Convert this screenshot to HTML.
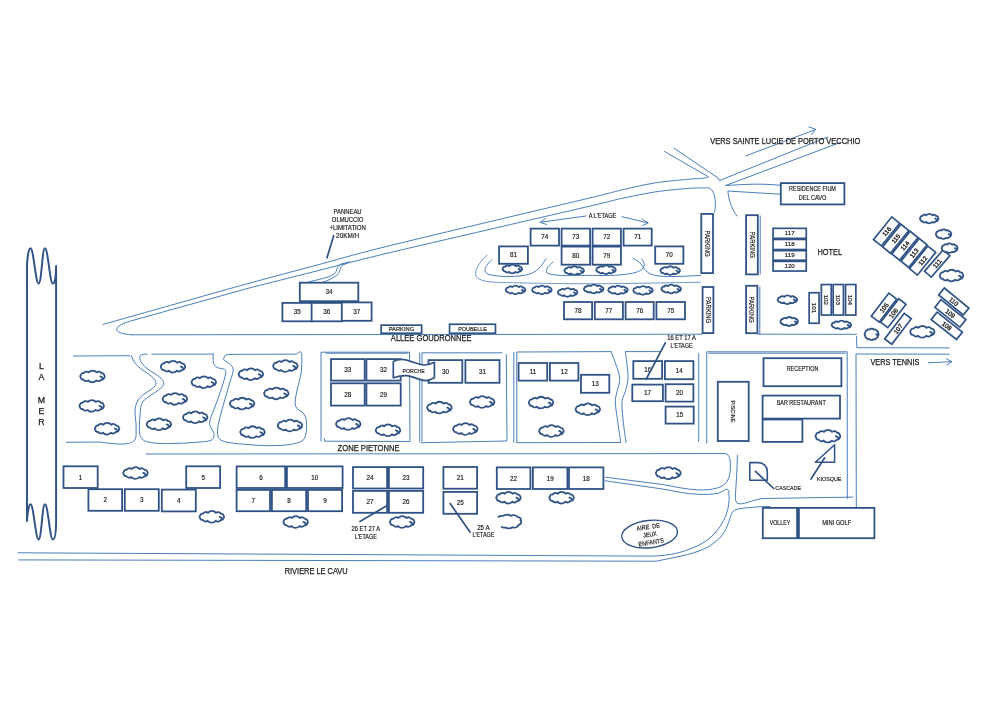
<!DOCTYPE html>
<html lang="fr"><head><meta charset="utf-8"><title>Plan</title>
<style>
html,body{margin:0;padding:0;background:#fff;}
body{width:992px;height:701px;overflow:hidden;}
svg{display:block;font-family:"Liberation Sans",sans-serif;filter:blur(0.35px);}
</style></head><body>
<svg width="992" height="701" viewBox="0 0 992 701">
<rect x="0" y="0" width="992" height="701" fill="#fff"/>
<path d="M27,266 C27.5,254 29,248.3 30.5,248.3 C33.6,248.3 35.6,283.6 38.6,283.6 C41.6,283.6 42.2,248.3 44.9,248.3 C48.1,248.3 49.8,283.6 52.8,283.6 C54.9,283.6 56.1,276 56.1,266 L56.1,520 C56.1,532 55.2,539.4 52.8,539.4 C49.8,539.4 48.1,504.3 44.9,504.3 C42.2,504.3 41.6,539.4 38.6,539.4 C35.6,539.4 33.6,504.3 30.5,504.3 C29,504.3 27.5,512 27,521 Z" fill="none" stroke="#2f5386" stroke-width="1.95" stroke-linecap="round" stroke-linejoin="round"/>
<text x="41.5" y="361.1" font-size="8.8" fill="#1a1a1a" stroke="#1a1a1a" stroke-width="0.25" style="writing-mode:vertical-rl;text-orientation:upright;letter-spacing:1.25px;white-space:pre">LA MER</text>
<path d="M103.00,324.40 C115.00,321.02 150.50,311.00 175.00,304.10 C199.50,297.20 226.67,289.42 250.00,283.00 C273.33,276.58 293.33,271.42 315.00,265.60 C336.67,259.78 350.83,255.43 380.00,248.10 C409.17,240.77 455.00,229.97 490.00,221.60 C525.00,213.23 567.95,203.20 590.00,197.90 C612.05,192.60 611.55,192.28 622.30,189.80 C633.05,187.32 643.75,184.73 654.50,183.00 C665.25,181.27 678.72,180.20 686.80,179.40 C694.88,178.60 699.38,178.63 703.00,178.20 C706.62,177.77 707.58,177.03 708.50,176.80 L664.5,151.5" fill="none" stroke="#4a7ebb" stroke-width="1.0" stroke-linecap="round" stroke-linejoin="round"/>
<path d="M132,334.8 C122,334.2 116.2,332 116.8,329 C117.5,326 122,323.5 130.3,321.1 L250,287.8  C260.83,285.07 293.33,276.87 315.00,271.40 C336.67,265.93 350.83,262.02 380.00,255.00 C409.17,247.98 455.00,237.45 490.00,229.30 C525.00,221.15 567.95,211.27 590.00,206.10 C612.05,200.93 611.55,200.65 622.30,198.30 C633.05,195.95 643.75,193.63 654.50,192.00 C665.25,190.37 678.72,189.18 686.80,188.50 C694.88,187.82 699.10,187.88 703.00,187.90 C706.90,187.92 708.33,187.45 710.20,188.60 C712.07,189.75 713.33,192.15 714.20,194.80 C715.07,197.45 715.33,201.63 715.40,204.50 C715.47,207.37 714.73,210.75 714.60,212.00" fill="none" stroke="#4a7ebb" stroke-width="1.0" stroke-linecap="round" stroke-linejoin="round"/>
<path d="M132,334.8 L702,334.2 M758,334.2 L856.5,334.3 M856.6,336.5 L856.8,347.7 L949.3,347.9" fill="none" stroke="#4a7ebb" stroke-width="1.0" stroke-linecap="round" stroke-linejoin="round"/>
<path d="M949,354.2 L856,354 L856.3,507" fill="none" stroke="#4a7ebb" stroke-width="1.0" stroke-linecap="round" stroke-linejoin="round"/>
<path d="M673.9,148.2 L718.2,178 L719.4,180.6 L827.9,136.9" fill="none" stroke="#4a7ebb" stroke-width="1.0" stroke-linecap="round" stroke-linejoin="round"/>
<path d="M746,155.8 L815.5,129.5" fill="none" stroke="#4a7ebb" stroke-width="1.0" stroke-linecap="round" stroke-linejoin="round"/>
<path d="M809,127 L815.8,129.3 L811.5,134.5" fill="none" stroke="#4a7ebb" stroke-width="1.0" stroke-linecap="round" stroke-linejoin="round"/>
<path d="M839.7,142.7 L725.4,185.6 C745,184.3 760,183.3 780.3,185.3" fill="none" stroke="#4a7ebb" stroke-width="1.0" stroke-linecap="round" stroke-linejoin="round"/>
<path d="M779.5,194.2 L727.9,191 C728.5,200 732,209 736.8,216" fill="none" stroke="#4a7ebb" stroke-width="1.0" stroke-linecap="round" stroke-linejoin="round"/>
<path d="M349.6,262 L341,264 C336,266 338,271 334,274 C328,278 318,279.5 308.6,282" fill="none" stroke="#4a7ebb" stroke-width="1.0" stroke-linecap="round" stroke-linejoin="round"/>
<path d="M349.6,262 L344,264.5 C339,266.5 341,272 337,275 C333,278.5 328,280.5 322,282.5" fill="none" stroke="#4a7ebb" stroke-width="1.0" stroke-linecap="round" stroke-linejoin="round"/>
<text x="347.60" y="213.54" font-size="6.5" text-anchor="middle" textLength="28.00" lengthAdjust="spacingAndGlyphs" stroke="#1a1a1a" stroke-width="0.17" fill="#1a1a1a">PANNEAU</text>
<text x="347.60" y="222.04" font-size="6.5" text-anchor="middle" textLength="31.50" lengthAdjust="spacingAndGlyphs" stroke="#1a1a1a" stroke-width="0.17" fill="#1a1a1a">OLMUCCIO</text>
<text x="347.60" y="230.04" font-size="6.5" text-anchor="middle" textLength="36.40" lengthAdjust="spacingAndGlyphs" stroke="#1a1a1a" stroke-width="0.17" fill="#1a1a1a">+LIMITATION</text>
<text x="347.60" y="238.24" font-size="6.5" text-anchor="middle" textLength="23.00" lengthAdjust="spacingAndGlyphs" stroke="#1a1a1a" stroke-width="0.17" fill="#1a1a1a">20KM/H</text>
<line x1="333.70" y1="235.70" x2="327.00" y2="257.80" stroke="#2f5386" stroke-width="1.7" stroke-linecap="round"/>
<rect x="299.80" y="282.70" width="58.50" height="18.50" fill="#fff" stroke="#2f5386" stroke-width="1.8"/>
<text x="329.05" y="294.32" font-size="6.3" text-anchor="middle" stroke="#1a1a1a" stroke-width="0.17" fill="#1a1a1a">34</text>
<rect x="282.40" y="302.90" width="29.50" height="18.40" fill="#fff" stroke="#2f5386" stroke-width="1.8"/>
<text x="297.15" y="314.47" font-size="6.3" text-anchor="middle" stroke="#1a1a1a" stroke-width="0.17" fill="#1a1a1a">35</text>
<rect x="311.60" y="302.90" width="30.50" height="18.40" fill="#fff" stroke="#2f5386" stroke-width="1.8"/>
<text x="326.85" y="314.47" font-size="6.3" text-anchor="middle" stroke="#1a1a1a" stroke-width="0.17" fill="#1a1a1a">36</text>
<rect x="341.80" y="302.40" width="29.80" height="18.40" fill="#fff" stroke="#2f5386" stroke-width="1.8"/>
<text x="356.70" y="313.97" font-size="6.3" text-anchor="middle" stroke="#1a1a1a" stroke-width="0.17" fill="#1a1a1a">37</text>
<rect x="381.15" y="325.15" width="40.50" height="8.10" fill="#fff" stroke="#2f5386" stroke-width="1.7"/>
<text x="401.40" y="331.46" font-size="6.0" text-anchor="middle" textLength="25.50" lengthAdjust="spacingAndGlyphs" stroke="#1a1a1a" stroke-width="0.17" fill="#1a1a1a">PARKING</text>
<rect x="449.55" y="324.25" width="45.90" height="9.00" fill="#fff" stroke="#2f5386" stroke-width="1.7"/>
<text x="472.50" y="331.01" font-size="6.0" text-anchor="middle" textLength="28.50" lengthAdjust="spacingAndGlyphs" stroke="#1a1a1a" stroke-width="0.17" fill="#1a1a1a">POUBELLE</text>
<text x="431.20" y="341.34" font-size="9" text-anchor="middle" textLength="80.70" lengthAdjust="spacingAndGlyphs" stroke="#1a1a1a" stroke-width="0.25" fill="#1a1a1a">ALLEE GOUDRONNEE</text>
<text x="602.50" y="217.60" font-size="6.4" text-anchor="middle" textLength="27.70" lengthAdjust="spacingAndGlyphs" stroke="#1a1a1a" stroke-width="0.17" fill="#1a1a1a">A L'ETAGE</text>
<path d="M586,216 L540.3,222.3 M545.5,218.5 L540.3,222.3 L546.5,224.5" fill="none" stroke="#4a7ebb" stroke-width="1.0" stroke-linecap="round" stroke-linejoin="round"/>
<path d="M622,216.7 L648,223 M642,219 L648,223 L642.5,225.5" fill="none" stroke="#4a7ebb" stroke-width="1.0" stroke-linecap="round" stroke-linejoin="round"/>
<path d="M521.71,268.04 A1.32,1.32 0 0 1 521.67,270.04 A1.60,1.60 0 0 1 519.57,271.26 A2.70,2.70 0 0 1 515.52,271.88 A4.28,4.28 0 0 1 509.05,271.86 A2.64,2.64 0 0 1 505.09,271.21 A1.56,1.56 0 0 1 503.09,269.96 A1.32,1.32 0 0 1 503.13,267.96 A1.60,1.60 0 0 1 505.23,266.74 A2.70,2.70 0 0 1 509.28,266.12 A4.28,4.28 0 0 1 515.75,266.14 A2.64,2.64 0 0 1 519.71,266.79 A1.56,1.56 0 0 1 521.71,268.04Z M518.70,269.00 q1.47,0.20 2.00,1.53" fill="#fff" stroke="#2f5386" stroke-width="1.8" stroke-linecap="round" stroke-linejoin="round"/>
<path d="M583.51,269.64 A1.32,1.32 0 0 1 583.47,271.64 A1.60,1.60 0 0 1 581.37,272.86 A2.70,2.70 0 0 1 577.32,273.48 A4.28,4.28 0 0 1 570.85,273.46 A2.64,2.64 0 0 1 566.89,272.81 A1.56,1.56 0 0 1 564.89,271.56 A1.32,1.32 0 0 1 564.93,269.56 A1.60,1.60 0 0 1 567.03,268.34 A2.70,2.70 0 0 1 571.08,267.72 A4.28,4.28 0 0 1 577.55,267.74 A2.64,2.64 0 0 1 581.51,268.39 A1.56,1.56 0 0 1 583.51,269.64Z M580.50,270.60 q1.47,0.20 2.00,1.53" fill="#fff" stroke="#2f5386" stroke-width="1.8" stroke-linecap="round" stroke-linejoin="round"/>
<path d="M615.31,268.84 A1.32,1.32 0 0 1 615.27,270.84 A1.60,1.60 0 0 1 613.17,272.06 A2.70,2.70 0 0 1 609.12,272.68 A4.28,4.28 0 0 1 602.65,272.66 A2.64,2.64 0 0 1 598.69,272.01 A1.56,1.56 0 0 1 596.69,270.76 A1.32,1.32 0 0 1 596.73,268.76 A1.60,1.60 0 0 1 598.83,267.54 A2.70,2.70 0 0 1 602.88,266.92 A4.28,4.28 0 0 1 609.35,266.94 A2.64,2.64 0 0 1 613.31,267.59 A1.56,1.56 0 0 1 615.31,268.84Z M612.30,269.80 q1.47,0.20 2.00,1.53" fill="#fff" stroke="#2f5386" stroke-width="1.8" stroke-linecap="round" stroke-linejoin="round"/>
<path d="M679.51,269.64 A1.32,1.32 0 0 1 679.47,271.64 A1.60,1.60 0 0 1 677.37,272.86 A2.70,2.70 0 0 1 673.32,273.48 A4.28,4.28 0 0 1 666.85,273.46 A2.64,2.64 0 0 1 662.89,272.81 A1.56,1.56 0 0 1 660.89,271.56 A1.32,1.32 0 0 1 660.93,269.56 A1.60,1.60 0 0 1 663.03,268.34 A2.70,2.70 0 0 1 667.08,267.72 A4.28,4.28 0 0 1 673.55,267.74 A2.64,2.64 0 0 1 677.51,268.39 A1.56,1.56 0 0 1 679.51,269.64Z M676.50,270.60 q1.47,0.20 2.00,1.53" fill="#fff" stroke="#2f5386" stroke-width="1.8" stroke-linecap="round" stroke-linejoin="round"/>
<rect x="530.60" y="228.60" width="28.40" height="17.00" fill="#fff" stroke="#2f5386" stroke-width="1.8"/>
<text x="544.80" y="239.47" font-size="6.3" text-anchor="middle" stroke="#1a1a1a" stroke-width="0.17" fill="#1a1a1a">74</text>
<rect x="561.60" y="228.60" width="28.50" height="17.00" fill="#fff" stroke="#2f5386" stroke-width="1.8"/>
<text x="575.85" y="239.47" font-size="6.3" text-anchor="middle" stroke="#1a1a1a" stroke-width="0.17" fill="#1a1a1a">73</text>
<rect x="592.60" y="228.60" width="28.30" height="17.00" fill="#fff" stroke="#2f5386" stroke-width="1.8"/>
<text x="606.75" y="239.47" font-size="6.3" text-anchor="middle" stroke="#1a1a1a" stroke-width="0.17" fill="#1a1a1a">72</text>
<rect x="623.60" y="228.60" width="28.10" height="17.00" fill="#fff" stroke="#2f5386" stroke-width="1.8"/>
<text x="637.65" y="239.47" font-size="6.3" text-anchor="middle" stroke="#1a1a1a" stroke-width="0.17" fill="#1a1a1a">71</text>
<rect x="499.10" y="246.40" width="28.80" height="17.40" fill="#fff" stroke="#2f5386" stroke-width="1.8"/>
<text x="513.50" y="257.47" font-size="6.3" text-anchor="middle" stroke="#1a1a1a" stroke-width="0.17" fill="#1a1a1a">81</text>
<rect x="561.60" y="246.60" width="28.50" height="18.10" fill="#fff" stroke="#2f5386" stroke-width="1.8"/>
<text x="575.85" y="258.02" font-size="6.3" text-anchor="middle" stroke="#1a1a1a" stroke-width="0.17" fill="#1a1a1a">80</text>
<rect x="592.60" y="246.60" width="28.30" height="18.10" fill="#fff" stroke="#2f5386" stroke-width="1.8"/>
<text x="606.75" y="258.02" font-size="6.3" text-anchor="middle" stroke="#1a1a1a" stroke-width="0.17" fill="#1a1a1a">79</text>
<rect x="655.20" y="246.40" width="28.20" height="17.40" fill="#fff" stroke="#2f5386" stroke-width="1.8"/>
<text x="669.30" y="257.47" font-size="6.3" text-anchor="middle" stroke="#1a1a1a" stroke-width="0.17" fill="#1a1a1a">70</text>
<path d="M486.7,255.2 C480,262 474,270 476,276 C480,283.5 500,282.3 520,282.8 C560,284 600,283.8 620,283.5 C650,283.2 680,282.6 700.5,282.3" fill="none" stroke="#4a7ebb" stroke-width="0.8" stroke-linecap="round" stroke-linejoin="round"/>
<path d="M491.8,259.6 C485,266 482,272 489,274.5 C500,277.5 520,277 530,274 C540,270 543,263 546,258.8" fill="none" stroke="#4a7ebb" stroke-width="1.0" stroke-linecap="round" stroke-linejoin="round"/>
<path d="M553,262 C548,266 545,270 547,273 C555,277 580,275 600,275.5 C612,275.8 628,274.8 636,272.3 C640,271 643.5,269 644.2,265.8 C644.5,263.5 643,261 641.8,259" fill="none" stroke="#4a7ebb" stroke-width="1.0" stroke-linecap="round" stroke-linejoin="round"/>
<path d="M632.9,258.5 C637,260.5 639.5,262 641,264.2 C643,267 644,269 645.8,270.6 C648,272.8 650,274 652.3,274.7 C657,276 662,276.6 668.4,276.6 C680,276.6 690,276 700.6,275.4" fill="none" stroke="#4a7ebb" stroke-width="1.0" stroke-linecap="round" stroke-linejoin="round"/>
<path d="M524.81,288.94 A1.32,1.32 0 0 1 524.77,290.94 A1.60,1.60 0 0 1 522.67,292.16 A2.70,2.70 0 0 1 518.62,292.78 A4.28,4.28 0 0 1 512.15,292.76 A2.64,2.64 0 0 1 508.19,292.11 A1.56,1.56 0 0 1 506.19,290.86 A1.32,1.32 0 0 1 506.23,288.86 A1.60,1.60 0 0 1 508.33,287.64 A2.70,2.70 0 0 1 512.38,287.02 A4.28,4.28 0 0 1 518.85,287.04 A2.64,2.64 0 0 1 522.81,287.69 A1.56,1.56 0 0 1 524.81,288.94Z M521.80,289.90 q1.47,0.20 2.00,1.53" fill="#fff" stroke="#2f5386" stroke-width="1.8" stroke-linecap="round" stroke-linejoin="round"/>
<path d="M551.21,288.94 A1.32,1.32 0 0 1 551.17,290.94 A1.60,1.60 0 0 1 549.07,292.16 A2.70,2.70 0 0 1 545.02,292.78 A4.28,4.28 0 0 1 538.55,292.76 A2.64,2.64 0 0 1 534.59,292.11 A1.56,1.56 0 0 1 532.59,290.86 A1.32,1.32 0 0 1 532.63,288.86 A1.60,1.60 0 0 1 534.73,287.64 A2.70,2.70 0 0 1 538.78,287.02 A4.28,4.28 0 0 1 545.25,287.04 A2.64,2.64 0 0 1 549.21,287.69 A1.56,1.56 0 0 1 551.21,288.94Z M548.20,289.90 q1.47,0.20 2.00,1.53" fill="#fff" stroke="#2f5386" stroke-width="1.8" stroke-linecap="round" stroke-linejoin="round"/>
<path d="M576.91,291.44 A1.32,1.32 0 0 1 576.87,293.44 A1.60,1.60 0 0 1 574.77,294.66 A2.70,2.70 0 0 1 570.72,295.28 A4.28,4.28 0 0 1 564.25,295.26 A2.64,2.64 0 0 1 560.29,294.61 A1.56,1.56 0 0 1 558.29,293.36 A1.32,1.32 0 0 1 558.33,291.36 A1.60,1.60 0 0 1 560.43,290.14 A2.70,2.70 0 0 1 564.48,289.52 A4.28,4.28 0 0 1 570.95,289.54 A2.64,2.64 0 0 1 574.91,290.19 A1.56,1.56 0 0 1 576.91,291.44Z M573.90,292.40 q1.47,0.20 2.00,1.53" fill="#fff" stroke="#2f5386" stroke-width="1.8" stroke-linecap="round" stroke-linejoin="round"/>
<path d="M603.01,288.04 A1.32,1.32 0 0 1 602.97,290.04 A1.60,1.60 0 0 1 600.87,291.26 A2.70,2.70 0 0 1 596.82,291.88 A4.28,4.28 0 0 1 590.35,291.86 A2.64,2.64 0 0 1 586.39,291.21 A1.56,1.56 0 0 1 584.39,289.96 A1.32,1.32 0 0 1 584.43,287.96 A1.60,1.60 0 0 1 586.53,286.74 A2.70,2.70 0 0 1 590.58,286.12 A4.28,4.28 0 0 1 597.05,286.14 A2.64,2.64 0 0 1 601.01,286.79 A1.56,1.56 0 0 1 603.01,288.04Z M600.00,289.00 q1.47,0.20 2.00,1.53" fill="#fff" stroke="#2f5386" stroke-width="1.8" stroke-linecap="round" stroke-linejoin="round"/>
<path d="M627.31,289.04 A1.32,1.32 0 0 1 627.27,291.04 A1.60,1.60 0 0 1 625.17,292.26 A2.70,2.70 0 0 1 621.12,292.88 A4.28,4.28 0 0 1 614.65,292.86 A2.64,2.64 0 0 1 610.69,292.21 A1.56,1.56 0 0 1 608.69,290.96 A1.32,1.32 0 0 1 608.73,288.96 A1.60,1.60 0 0 1 610.83,287.74 A2.70,2.70 0 0 1 614.88,287.12 A4.28,4.28 0 0 1 621.35,287.14 A2.64,2.64 0 0 1 625.31,287.79 A1.56,1.56 0 0 1 627.31,289.04Z M624.30,290.00 q1.47,0.20 2.00,1.53" fill="#fff" stroke="#2f5386" stroke-width="1.8" stroke-linecap="round" stroke-linejoin="round"/>
<path d="M652.31,289.44 A1.32,1.32 0 0 1 652.27,291.44 A1.60,1.60 0 0 1 650.17,292.66 A2.70,2.70 0 0 1 646.12,293.28 A4.28,4.28 0 0 1 639.65,293.26 A2.64,2.64 0 0 1 635.69,292.61 A1.56,1.56 0 0 1 633.69,291.36 A1.32,1.32 0 0 1 633.73,289.36 A1.60,1.60 0 0 1 635.83,288.14 A2.70,2.70 0 0 1 639.88,287.52 A4.28,4.28 0 0 1 646.35,287.54 A2.64,2.64 0 0 1 650.31,288.19 A1.56,1.56 0 0 1 652.31,289.44Z M649.30,290.40 q1.47,0.20 2.00,1.53" fill="#fff" stroke="#2f5386" stroke-width="1.8" stroke-linecap="round" stroke-linejoin="round"/>
<path d="M680.51,288.04 A1.32,1.32 0 0 1 680.47,290.04 A1.60,1.60 0 0 1 678.37,291.26 A2.70,2.70 0 0 1 674.32,291.88 A4.28,4.28 0 0 1 667.85,291.86 A2.64,2.64 0 0 1 663.89,291.21 A1.56,1.56 0 0 1 661.89,289.96 A1.32,1.32 0 0 1 661.93,287.96 A1.60,1.60 0 0 1 664.03,286.74 A2.70,2.70 0 0 1 668.08,286.12 A4.28,4.28 0 0 1 674.55,286.14 A2.64,2.64 0 0 1 678.51,286.79 A1.56,1.56 0 0 1 680.51,288.04Z M677.50,289.00 q1.47,0.20 2.00,1.53" fill="#fff" stroke="#2f5386" stroke-width="1.8" stroke-linecap="round" stroke-linejoin="round"/>
<rect x="564.00" y="302.00" width="28.10" height="17.30" fill="#fff" stroke="#2f5386" stroke-width="1.8"/>
<text x="578.05" y="313.02" font-size="6.3" text-anchor="middle" stroke="#1a1a1a" stroke-width="0.17" fill="#1a1a1a">78</text>
<rect x="594.80" y="302.00" width="28.10" height="17.30" fill="#fff" stroke="#2f5386" stroke-width="1.8"/>
<text x="608.85" y="313.02" font-size="6.3" text-anchor="middle" stroke="#1a1a1a" stroke-width="0.17" fill="#1a1a1a">77</text>
<rect x="625.60" y="302.00" width="28.10" height="17.30" fill="#fff" stroke="#2f5386" stroke-width="1.8"/>
<text x="639.65" y="313.02" font-size="6.3" text-anchor="middle" stroke="#1a1a1a" stroke-width="0.17" fill="#1a1a1a">76</text>
<rect x="656.40" y="302.00" width="28.60" height="17.30" fill="#fff" stroke="#2f5386" stroke-width="1.8"/>
<text x="670.70" y="313.02" font-size="6.3" text-anchor="middle" stroke="#1a1a1a" stroke-width="0.17" fill="#1a1a1a">75</text>
<rect x="701.30" y="213.90" width="11.70" height="59.20" fill="#fff" stroke="#2f5386" stroke-width="1.8"/>
<text x="707.15" y="245.94" font-size="6.5" text-anchor="middle" textLength="26.20" lengthAdjust="spacingAndGlyphs" transform="rotate(90 707.15 243.50)" stroke="#1a1a1a" stroke-width="0.17" fill="#1a1a1a">PARKING</text>
<rect x="746.10" y="215.20" width="11.70" height="59.20" fill="#fff" stroke="#2f5386" stroke-width="1.8"/>
<text x="751.95" y="247.24" font-size="6.5" text-anchor="middle" textLength="26.20" lengthAdjust="spacingAndGlyphs" transform="rotate(90 751.95 244.80)" stroke="#1a1a1a" stroke-width="0.17" fill="#1a1a1a">PARKING</text>
<rect x="702.60" y="287.00" width="10.80" height="46.10" fill="#fff" stroke="#2f5386" stroke-width="1.8"/>
<text x="708.00" y="312.49" font-size="6.5" text-anchor="middle" textLength="26.20" lengthAdjust="spacingAndGlyphs" transform="rotate(90 708.00 310.05)" stroke="#1a1a1a" stroke-width="0.17" fill="#1a1a1a">PARKING</text>
<rect x="746.10" y="285.80" width="11.30" height="47.40" fill="#fff" stroke="#2f5386" stroke-width="1.8"/>
<text x="751.75" y="311.94" font-size="6.5" text-anchor="middle" textLength="26.20" lengthAdjust="spacingAndGlyphs" transform="rotate(90 751.75 309.50)" stroke="#1a1a1a" stroke-width="0.17" fill="#1a1a1a">PARKING</text>
<line x1="760.20" y1="216.00" x2="760.20" y2="274.00" stroke="#4a7ebb" stroke-width="1.0" stroke-linecap="round"/>
<line x1="759.80" y1="287.00" x2="759.80" y2="334.00" stroke="#4a7ebb" stroke-width="1.0" stroke-linecap="round"/>
<rect x="780.80" y="183.10" width="63.60" height="21.30" fill="#fff" stroke="#2f5386" stroke-width="1.8"/>
<text x="812.50" y="191.07" font-size="6.3" text-anchor="middle" textLength="46.80" lengthAdjust="spacingAndGlyphs" stroke="#1a1a1a" stroke-width="0.17" fill="#1a1a1a">RESIDENCE FIUM</text>
<text x="812.50" y="199.67" font-size="6.3" text-anchor="middle" textLength="27.50" lengthAdjust="spacingAndGlyphs" stroke="#1a1a1a" stroke-width="0.17" fill="#1a1a1a">DEL CAVO</text>
<text x="785.30" y="143.94" font-size="9" text-anchor="middle" textLength="150.00" lengthAdjust="spacingAndGlyphs" stroke="#1a1a1a" stroke-width="0.25" fill="#1a1a1a">VERS SAINTE LUCIE DE PORTO VECCHIO</text>
<rect x="773.05" y="228.35" width="33.20" height="10.00" fill="#fff" stroke="#2f5386" stroke-width="1.7"/>
<text x="789.65" y="234.78" font-size="6.2" text-anchor="middle" stroke="#1a1a1a" stroke-width="0.17" fill="#1a1a1a">117</text>
<rect x="773.05" y="239.45" width="33.20" height="10.10" fill="#fff" stroke="#2f5386" stroke-width="1.7"/>
<text x="789.65" y="245.93" font-size="6.2" text-anchor="middle" stroke="#1a1a1a" stroke-width="0.17" fill="#1a1a1a">118</text>
<rect x="773.05" y="250.65" width="33.20" height="9.60" fill="#fff" stroke="#2f5386" stroke-width="1.7"/>
<text x="789.65" y="256.88" font-size="6.2" text-anchor="middle" stroke="#1a1a1a" stroke-width="0.17" fill="#1a1a1a">119</text>
<rect x="773.05" y="261.35" width="33.20" height="9.70" fill="#fff" stroke="#2f5386" stroke-width="1.7"/>
<text x="789.65" y="267.63" font-size="6.2" text-anchor="middle" stroke="#1a1a1a" stroke-width="0.17" fill="#1a1a1a">120</text>
<text x="829.70" y="254.74" font-size="9" text-anchor="middle" textLength="24.60" lengthAdjust="spacingAndGlyphs" stroke="#1a1a1a" stroke-width="0.25" fill="#1a1a1a">HOTEL</text>
<g transform="translate(886.60 231.40) rotate(-51)">
<rect x="-14.55" y="-5.05" width="29.10" height="10.10" fill="#fff" stroke="#2f5386" stroke-width="1.7"/>
<text x="0" y="2.37" font-size="6.3" text-anchor="middle" fill="#1a1a1a" stroke="#1a1a1a" stroke-width="0.3">116</text>
</g>
<g transform="translate(895.70 238.70) rotate(-51)">
<rect x="-14.55" y="-5.05" width="29.10" height="10.10" fill="#fff" stroke="#2f5386" stroke-width="1.7"/>
<text x="0" y="2.37" font-size="6.3" text-anchor="middle" fill="#1a1a1a" stroke="#1a1a1a" stroke-width="0.3">115</text>
</g>
<g transform="translate(904.90 245.70) rotate(-51)">
<rect x="-14.55" y="-5.05" width="29.10" height="10.10" fill="#fff" stroke="#2f5386" stroke-width="1.7"/>
<text x="0" y="2.37" font-size="6.3" text-anchor="middle" fill="#1a1a1a" stroke="#1a1a1a" stroke-width="0.3">114</text>
</g>
<g transform="translate(914.00 253.00) rotate(-51)">
<rect x="-14.55" y="-5.05" width="29.10" height="10.10" fill="#fff" stroke="#2f5386" stroke-width="1.7"/>
<text x="0" y="2.37" font-size="6.3" text-anchor="middle" fill="#1a1a1a" stroke="#1a1a1a" stroke-width="0.3">113</text>
</g>
<g transform="translate(922.60 260.60) rotate(-51)">
<rect x="-14.55" y="-5.05" width="29.10" height="10.10" fill="#fff" stroke="#2f5386" stroke-width="1.7"/>
<text x="0" y="2.37" font-size="6.3" text-anchor="middle" fill="#1a1a1a" stroke="#1a1a1a" stroke-width="0.3">112</text>
</g>
<g transform="translate(937.20 263.50) rotate(-49)">
<rect x="-14.15" y="-4.45" width="28.30" height="8.90" fill="#fff" stroke="#2f5386" stroke-width="1.7"/>
<text x="0" y="2.37" font-size="6.3" text-anchor="middle" fill="#1a1a1a" stroke="#1a1a1a" stroke-width="0.3">111</text>
</g>
<path d="M937.93,217.47 A1.55,1.55 0 0 1 937.89,219.81 A1.60,1.60 0 0 1 935.92,221.24 A2.55,2.55 0 0 1 932.13,221.97 A4.01,4.01 0 0 1 926.06,221.95 A2.50,2.50 0 0 1 922.35,221.19 A1.57,1.57 0 0 1 920.47,219.73 A1.55,1.55 0 0 1 920.51,217.39 A1.60,1.60 0 0 1 922.48,215.96 A2.55,2.55 0 0 1 926.27,215.23 A4.01,4.01 0 0 1 932.34,215.25 A2.50,2.50 0 0 1 936.05,216.01 A1.57,1.57 0 0 1 937.93,217.47Z M935.20,218.60 q1.40,0.22 1.90,1.65" fill="#fff" stroke="#2f5386" stroke-width="1.8" stroke-linecap="round" stroke-linejoin="round"/>
<path d="M950.79,232.99 A1.66,1.66 0 0 1 950.76,235.50 A1.47,1.47 0 0 1 949.14,237.03 A2.12,2.12 0 0 1 946.01,237.81 A3.30,3.30 0 0 1 941.01,237.80 A2.09,2.09 0 0 1 937.96,236.98 A1.46,1.46 0 0 1 936.41,235.41 A1.66,1.66 0 0 1 936.44,232.90 A1.47,1.47 0 0 1 938.06,231.37 A2.12,2.12 0 0 1 941.19,230.59 A3.30,3.30 0 0 1 946.19,230.60 A2.09,2.09 0 0 1 949.24,231.42 A1.46,1.46 0 0 1 950.79,232.99Z M948.70,234.20 q1.19,0.22 1.61,1.65" fill="#fff" stroke="#2f5386" stroke-width="1.8" stroke-linecap="round" stroke-linejoin="round"/>
<path d="M957.05,247.00 A1.64,1.64 0 0 1 957.01,249.49 A1.49,1.49 0 0 1 955.33,251.00 A2.20,2.20 0 0 1 952.10,251.77 A3.42,3.42 0 0 1 946.92,251.75 A2.15,2.15 0 0 1 943.76,250.95 A1.47,1.47 0 0 1 942.15,249.40 A1.64,1.64 0 0 1 942.19,246.91 A1.49,1.49 0 0 1 943.87,245.40 A2.20,2.20 0 0 1 947.10,244.63 A3.42,3.42 0 0 1 952.28,244.65 A2.15,2.15 0 0 1 955.44,245.45 A1.47,1.47 0 0 1 957.05,247.00Z M954.85,248.20 q1.23,0.22 1.66,1.65" fill="#fff" stroke="#2f5386" stroke-width="1.8" stroke-linecap="round" stroke-linejoin="round"/>
<path d="M962.63,274.23 A1.88,1.88 0 0 1 962.57,277.07 A2.01,2.01 0 0 1 960.07,278.81 A3.24,3.24 0 0 1 955.23,279.69 A5.11,5.11 0 0 1 947.49,279.67 A3.18,3.18 0 0 1 942.77,278.75 A1.97,1.97 0 0 1 940.37,276.97 A1.88,1.88 0 0 1 940.43,274.13 A2.01,2.01 0 0 1 942.93,272.39 A3.24,3.24 0 0 1 947.77,271.51 A5.11,5.11 0 0 1 955.51,271.53 A3.18,3.18 0 0 1 960.23,272.45 A1.97,1.97 0 0 1 962.63,274.23Z M959.00,275.60 q1.75,0.26 2.38,1.98" fill="#fff" stroke="#2f5386" stroke-width="1.8" stroke-linecap="round" stroke-linejoin="round"/>
<rect x="809.15" y="292.75" width="9.90" height="30.50" fill="#fff" stroke="#2f5386" stroke-width="1.7"/>
<text x="814.10" y="310.33" font-size="6.2" text-anchor="middle" transform="rotate(90 814.10 308.00)" stroke="#1a1a1a" stroke-width="0.17" fill="#1a1a1a">101</text>
<rect x="821.35" y="284.55" width="9.90" height="30.50" fill="#fff" stroke="#2f5386" stroke-width="1.7"/>
<text x="826.30" y="302.13" font-size="6.2" text-anchor="middle" transform="rotate(90 826.30 299.80)" stroke="#1a1a1a" stroke-width="0.17" fill="#1a1a1a">102</text>
<rect x="833.15" y="284.55" width="10.30" height="30.50" fill="#fff" stroke="#2f5386" stroke-width="1.7"/>
<text x="838.30" y="302.13" font-size="6.2" text-anchor="middle" transform="rotate(90 838.30 299.80)" stroke="#1a1a1a" stroke-width="0.17" fill="#1a1a1a">103</text>
<rect x="845.55" y="284.55" width="10.30" height="30.50" fill="#fff" stroke="#2f5386" stroke-width="1.7"/>
<text x="850.70" y="302.13" font-size="6.2" text-anchor="middle" transform="rotate(90 850.70 299.80)" stroke="#1a1a1a" stroke-width="0.17" fill="#1a1a1a">104</text>
<path d="M796.71,298.74 A1.32,1.32 0 0 1 796.67,300.74 A1.60,1.60 0 0 1 794.57,301.96 A2.70,2.70 0 0 1 790.52,302.58 A4.28,4.28 0 0 1 784.05,302.56 A2.64,2.64 0 0 1 780.09,301.91 A1.56,1.56 0 0 1 778.09,300.66 A1.32,1.32 0 0 1 778.13,298.66 A1.60,1.60 0 0 1 780.23,297.44 A2.70,2.70 0 0 1 784.28,296.82 A4.28,4.28 0 0 1 790.75,296.84 A2.64,2.64 0 0 1 794.71,297.49 A1.56,1.56 0 0 1 796.71,298.74Z M793.70,299.70 q1.47,0.20 2.00,1.53" fill="#fff" stroke="#2f5386" stroke-width="1.8" stroke-linecap="round" stroke-linejoin="round"/>
<path d="M797.46,320.43 A1.47,1.47 0 0 1 797.42,322.65 A1.52,1.52 0 0 1 795.56,324.00 A2.41,2.41 0 0 1 791.97,324.69 A3.79,3.79 0 0 1 786.23,324.68 A2.36,2.36 0 0 1 782.72,323.96 A1.49,1.49 0 0 1 780.94,322.57 A1.47,1.47 0 0 1 780.98,320.35 A1.52,1.52 0 0 1 782.84,319.00 A2.41,2.41 0 0 1 786.43,318.31 A3.79,3.79 0 0 1 792.17,318.32 A2.36,2.36 0 0 1 795.68,319.04 A1.49,1.49 0 0 1 797.46,320.43Z M794.90,321.50 q1.33,0.21 1.80,1.57" fill="#fff" stroke="#2f5386" stroke-width="1.8" stroke-linecap="round" stroke-linejoin="round"/>
<path d="M850.71,324.04 A1.32,1.32 0 0 1 850.67,326.04 A1.60,1.60 0 0 1 848.57,327.26 A2.70,2.70 0 0 1 844.52,327.88 A4.28,4.28 0 0 1 838.05,327.86 A2.64,2.64 0 0 1 834.09,327.21 A1.56,1.56 0 0 1 832.09,325.96 A1.32,1.32 0 0 1 832.13,323.96 A1.60,1.60 0 0 1 834.23,322.74 A2.70,2.70 0 0 1 838.28,322.12 A4.28,4.28 0 0 1 844.75,322.14 A2.64,2.64 0 0 1 848.71,322.79 A1.56,1.56 0 0 1 850.71,324.04Z M847.70,325.00 q1.47,0.20 2.00,1.53" fill="#fff" stroke="#2f5386" stroke-width="1.8" stroke-linecap="round" stroke-linejoin="round"/>
<path d="M877.86,332.70 A2.19,2.19 0 0 1 877.82,336.02 A1.63,1.63 0 0 1 876.42,338.04 A1.92,1.92 0 0 1 873.70,339.06 A2.87,2.87 0 0 1 869.35,339.04 A1.89,1.89 0 0 1 866.69,337.97 A1.63,1.63 0 0 1 865.34,335.90 A2.19,2.19 0 0 1 865.38,332.58 A1.63,1.63 0 0 1 866.78,330.56 A1.92,1.92 0 0 1 869.50,329.54 A2.87,2.87 0 0 1 873.85,329.56 A1.89,1.89 0 0 1 876.51,330.63 A1.63,1.63 0 0 1 877.86,332.70Z M876.25,334.30 q1.09,0.26 1.47,1.95" fill="#fff" stroke="#2f5386" stroke-width="1.8" stroke-linecap="round" stroke-linejoin="round"/>
<path d="M933.84,330.45 A1.85,1.85 0 0 1 933.78,333.25 A2.05,2.05 0 0 1 931.18,334.96 A3.36,3.36 0 0 1 926.17,335.82 A5.30,5.30 0 0 1 918.15,335.80 A3.29,3.29 0 0 1 913.25,334.90 A2.01,2.01 0 0 1 910.76,333.15 A1.85,1.85 0 0 1 910.82,330.35 A2.05,2.05 0 0 1 913.42,328.64 A3.36,3.36 0 0 1 918.43,327.78 A5.30,5.30 0 0 1 926.45,327.80 A3.29,3.29 0 0 1 931.35,328.70 A2.01,2.01 0 0 1 933.84,330.45Z M930.04,331.80 q1.81,0.26 2.45,1.98" fill="#fff" stroke="#2f5386" stroke-width="1.8" stroke-linecap="round" stroke-linejoin="round"/>
<g transform="translate(884.00 307.60) rotate(-52.5)">
<rect x="-14.45" y="-4.95" width="28.90" height="9.90" fill="#fff" stroke="#2f5386" stroke-width="1.7"/>
<text x="0" y="2.37" font-size="6.3" text-anchor="middle" fill="#1a1a1a" stroke="#1a1a1a" stroke-width="0.3">105</text>
</g>
<g transform="translate(893.30 313.20) rotate(-52)">
<rect x="-14.80" y="-4.55" width="29.60" height="9.10" fill="#fff" stroke="#2f5386" stroke-width="1.7"/>
<text x="0" y="2.37" font-size="6.3" text-anchor="middle" fill="#1a1a1a" stroke="#1a1a1a" stroke-width="0.3">106</text>
</g>
<g transform="translate(898.00 328.80) rotate(-52.5)">
<rect x="-16.05" y="-4.45" width="32.10" height="8.90" fill="#fff" stroke="#2f5386" stroke-width="1.7"/>
<text x="0" y="2.37" font-size="6.3" text-anchor="middle" fill="#1a1a1a" stroke="#1a1a1a" stroke-width="0.3">107</text>
</g>
<g transform="translate(953.80 301.50) rotate(39.5)">
<rect x="-15.90" y="-4.45" width="31.80" height="8.90" fill="#fff" stroke="#2f5386" stroke-width="1.7"/>
<text x="0" y="2.37" font-size="6.3" text-anchor="middle" fill="#1a1a1a" stroke="#1a1a1a" stroke-width="0.3">110</text>
</g>
<g transform="translate(950.40 313.40) rotate(38.5)">
<rect x="-15.95" y="-4.85" width="31.90" height="9.70" fill="#fff" stroke="#2f5386" stroke-width="1.7"/>
<text x="0" y="2.37" font-size="6.3" text-anchor="middle" fill="#1a1a1a" stroke="#1a1a1a" stroke-width="0.3">109</text>
</g>
<g transform="translate(946.80 325.80) rotate(38.2)">
<rect x="-16.15" y="-4.75" width="32.30" height="9.50" fill="#fff" stroke="#2f5386" stroke-width="1.7"/>
<text x="0" y="2.37" font-size="6.3" text-anchor="middle" fill="#1a1a1a" stroke="#1a1a1a" stroke-width="0.3">108</text>
</g>
<text x="894.90" y="364.84" font-size="9" text-anchor="middle" textLength="49.00" lengthAdjust="spacingAndGlyphs" stroke="#1a1a1a" stroke-width="0.25" fill="#1a1a1a">VERS TENNIS</text>
<path d="M928.4,362.8 L951.8,361.7 M946.5,358.8 L951.8,361.7 L946.8,365" fill="none" stroke="#4a7ebb" stroke-width="1.0" stroke-linecap="round" stroke-linejoin="round"/>
<path d="M73.3,356 L129.8,355.7" fill="none" stroke="#4a7ebb" stroke-width="1.0" stroke-linecap="round" stroke-linejoin="round"/>
<path d="M131.4,355.7 C133,361 136,365 142,369.5 C149,374.5 156,378.5 156,383.2 C156,387 150,390 145,393.5 C138,398.5 135.5,403 135,410.6 C134.8,418 136.5,422 136.1,428 C136,433 136.5,436.5 135.3,438.9 C133.5,442.5 130,443.5 124,444 C116,444.5 108,443 99.2,442 L66.3,442.3" fill="none" stroke="#4a7ebb" stroke-width="1.0" stroke-linecap="round" stroke-linejoin="round"/>
<path d="M147.1,354.1 C144,354.2 141.5,354.5 140.3,355.5 C138.5,357.5 140.5,362.5 144.8,366.7 C149,370.5 154,373 157.3,375.3 C161,378 163.6,380.5 163.6,383.2 C163.6,386 161,388.5 157.3,391 C152,394.5 148,397 144.8,399.6 C141.5,402.5 140.6,406 140.4,410.6 C140,418 139.2,423 139.3,427.9 C139.4,432 139.5,435.5 140.8,437.3 C142.5,440 144.5,441.3 147.9,442 C155,443.5 162,443.7 169.9,443.6 C180,443.5 190,443 200,442 C205,441.6 209,441.3 211,440.3 C214,438.5 214.8,435.5 213.5,432.6 C212,429 209.5,426.5 209.6,423.2 C210,418.5 212,414.5 213.5,410.6 C216.5,403 219,396 221.4,388.7 C223,383.5 225,378 225.8,373 C226,370.5 225.5,369.5 223.7,369 C220.5,368.3 217.5,368.2 215.9,366.7 C213.8,364.7 213.3,362.5 213.2,360.4 L213.2,354.1" fill="none" stroke="#4a7ebb" stroke-width="1.0" stroke-linecap="round" stroke-linejoin="round"/>
<path d="M151.8,354.1 L213.2,354.1" fill="none" stroke="#4a7ebb" stroke-width="1.0" stroke-linecap="round" stroke-linejoin="round"/>
<path d="M223.7,358.8 C224,356 225.5,354.6 228.5,354.4 L295.2,354.1 C297.5,354 298.5,352 299.9,351.8 C301.3,351.7 301.7,353 301.8,355 C302,360.5 302,366 301.4,371.4 C300.5,378.5 298,385 296.7,391.8 C295.8,396.5 294.5,402 295.5,405.9 C296.5,409.5 300.5,410.5 303,413 C305,415 305.8,417.5 306.2,420 C307,425 306.8,430.5 305.4,435.7 C304.5,439 303,440.8 299.9,442 C295,443.8 290,444.7 284.2,445.2 C274,446 263,445.8 252.8,444.9 C243.5,444.2 234.5,443.8 226.1,442 C222,441 219.3,439.8 218.3,437.3 C217,433.5 217.3,429 218.3,424.8 C219.5,418.5 221.3,412 223,405.9 C225.5,397 228.3,388 230.8,379.2 C231.8,376 233.3,372.5 233.2,369.8 C233,367 231,365 229.2,363.5 C227,361.8 224.5,361 223.7,359.6" fill="none" stroke="#4a7ebb" stroke-width="1.0" stroke-linecap="round" stroke-linejoin="round"/>
<path d="M104.14,375.06 A1.84,1.84 0 0 1 104.08,377.84 A2.06,2.06 0 0 1 101.46,379.54 A3.39,3.39 0 0 1 96.41,380.41 A5.34,5.34 0 0 1 88.31,380.39 A3.32,3.32 0 0 1 83.37,379.49 A2.01,2.01 0 0 1 80.86,377.74 A1.84,1.84 0 0 1 80.92,374.96 A2.06,2.06 0 0 1 83.54,373.26 A3.39,3.39 0 0 1 88.59,372.39 A5.34,5.34 0 0 1 96.69,372.41 A3.32,3.32 0 0 1 101.63,373.31 A2.01,2.01 0 0 1 104.14,375.06Z M100.30,376.40 q1.82,0.26 2.47,1.98" fill="#fff" stroke="#2f5386" stroke-width="1.8" stroke-linecap="round" stroke-linejoin="round"/>
<path d="M103.34,404.56 A1.84,1.84 0 0 1 103.28,407.34 A2.06,2.06 0 0 1 100.66,409.04 A3.39,3.39 0 0 1 95.61,409.91 A5.34,5.34 0 0 1 87.51,409.89 A3.32,3.32 0 0 1 82.57,408.99 A2.01,2.01 0 0 1 80.06,407.24 A1.84,1.84 0 0 1 80.12,404.46 A2.06,2.06 0 0 1 82.74,402.76 A3.39,3.39 0 0 1 87.79,401.89 A5.34,5.34 0 0 1 95.89,401.91 A3.32,3.32 0 0 1 100.83,402.81 A2.01,2.01 0 0 1 103.34,404.56Z M99.50,405.90 q1.82,0.26 2.47,1.98" fill="#fff" stroke="#2f5386" stroke-width="1.8" stroke-linecap="round" stroke-linejoin="round"/>
<path d="M118.74,427.36 A1.84,1.84 0 0 1 118.68,430.14 A2.06,2.06 0 0 1 116.06,431.84 A3.39,3.39 0 0 1 111.01,432.71 A5.34,5.34 0 0 1 102.91,432.69 A3.32,3.32 0 0 1 97.97,431.79 A2.01,2.01 0 0 1 95.46,430.04 A1.84,1.84 0 0 1 95.52,427.26 A2.06,2.06 0 0 1 98.14,425.56 A3.39,3.39 0 0 1 103.19,424.69 A5.34,5.34 0 0 1 111.29,424.71 A3.32,3.32 0 0 1 116.23,425.61 A2.01,2.01 0 0 1 118.74,427.36Z M114.90,428.70 q1.82,0.26 2.47,1.98" fill="#fff" stroke="#2f5386" stroke-width="1.8" stroke-linecap="round" stroke-linejoin="round"/>
<path d="M184.64,365.36 A1.84,1.84 0 0 1 184.58,368.14 A2.06,2.06 0 0 1 181.96,369.84 A3.39,3.39 0 0 1 176.91,370.71 A5.34,5.34 0 0 1 168.81,370.69 A3.32,3.32 0 0 1 163.87,369.79 A2.01,2.01 0 0 1 161.36,368.04 A1.84,1.84 0 0 1 161.42,365.26 A2.06,2.06 0 0 1 164.04,363.56 A3.39,3.39 0 0 1 169.09,362.69 A5.34,5.34 0 0 1 177.19,362.71 A3.32,3.32 0 0 1 182.13,363.61 A2.01,2.01 0 0 1 184.64,365.36Z M180.80,366.70 q1.82,0.26 2.47,1.98" fill="#fff" stroke="#2f5386" stroke-width="1.8" stroke-linecap="round" stroke-linejoin="round"/>
<path d="M215.44,380.86 A1.84,1.84 0 0 1 215.38,383.64 A2.06,2.06 0 0 1 212.76,385.34 A3.39,3.39 0 0 1 207.71,386.21 A5.34,5.34 0 0 1 199.61,386.19 A3.32,3.32 0 0 1 194.67,385.29 A2.01,2.01 0 0 1 192.16,383.54 A1.84,1.84 0 0 1 192.22,380.76 A2.06,2.06 0 0 1 194.84,379.06 A3.39,3.39 0 0 1 199.89,378.19 A5.34,5.34 0 0 1 207.99,378.21 A3.32,3.32 0 0 1 212.93,379.11 A2.01,2.01 0 0 1 215.44,380.86Z M211.60,382.20 q1.82,0.26 2.47,1.98" fill="#fff" stroke="#2f5386" stroke-width="1.8" stroke-linecap="round" stroke-linejoin="round"/>
<path d="M186.54,397.56 A1.84,1.84 0 0 1 186.48,400.34 A2.06,2.06 0 0 1 183.86,402.04 A3.39,3.39 0 0 1 178.81,402.91 A5.34,5.34 0 0 1 170.71,402.89 A3.32,3.32 0 0 1 165.77,401.99 A2.01,2.01 0 0 1 163.26,400.24 A1.84,1.84 0 0 1 163.32,397.46 A2.06,2.06 0 0 1 165.94,395.76 A3.39,3.39 0 0 1 170.99,394.89 A5.34,5.34 0 0 1 179.09,394.91 A3.32,3.32 0 0 1 184.03,395.81 A2.01,2.01 0 0 1 186.54,397.56Z M182.70,398.90 q1.82,0.26 2.47,1.98" fill="#fff" stroke="#2f5386" stroke-width="1.8" stroke-linecap="round" stroke-linejoin="round"/>
<path d="M170.54,422.96 A1.84,1.84 0 0 1 170.48,425.74 A2.06,2.06 0 0 1 167.86,427.44 A3.39,3.39 0 0 1 162.81,428.31 A5.34,5.34 0 0 1 154.71,428.29 A3.32,3.32 0 0 1 149.77,427.39 A2.01,2.01 0 0 1 147.26,425.64 A1.84,1.84 0 0 1 147.32,422.86 A2.06,2.06 0 0 1 149.94,421.16 A3.39,3.39 0 0 1 154.99,420.29 A5.34,5.34 0 0 1 163.09,420.31 A3.32,3.32 0 0 1 168.03,421.21 A2.01,2.01 0 0 1 170.54,422.96Z M166.70,424.30 q1.82,0.26 2.47,1.98" fill="#fff" stroke="#2f5386" stroke-width="1.8" stroke-linecap="round" stroke-linejoin="round"/>
<path d="M206.84,415.96 A1.84,1.84 0 0 1 206.78,418.74 A2.06,2.06 0 0 1 204.16,420.44 A3.39,3.39 0 0 1 199.11,421.31 A5.34,5.34 0 0 1 191.01,421.29 A3.32,3.32 0 0 1 186.07,420.39 A2.01,2.01 0 0 1 183.56,418.64 A1.84,1.84 0 0 1 183.62,415.86 A2.06,2.06 0 0 1 186.24,414.16 A3.39,3.39 0 0 1 191.29,413.29 A5.34,5.34 0 0 1 199.39,413.31 A3.32,3.32 0 0 1 204.33,414.21 A2.01,2.01 0 0 1 206.84,415.96Z M203.00,417.30 q1.82,0.26 2.47,1.98" fill="#fff" stroke="#2f5386" stroke-width="1.8" stroke-linecap="round" stroke-linejoin="round"/>
<path d="M262.54,372.86 A1.84,1.84 0 0 1 262.48,375.64 A2.06,2.06 0 0 1 259.86,377.34 A3.39,3.39 0 0 1 254.81,378.21 A5.34,5.34 0 0 1 246.71,378.19 A3.32,3.32 0 0 1 241.77,377.29 A2.01,2.01 0 0 1 239.26,375.54 A1.84,1.84 0 0 1 239.32,372.76 A2.06,2.06 0 0 1 241.94,371.06 A3.39,3.39 0 0 1 246.99,370.19 A5.34,5.34 0 0 1 255.09,370.21 A3.32,3.32 0 0 1 260.03,371.11 A2.01,2.01 0 0 1 262.54,372.86Z M258.70,374.20 q1.82,0.26 2.47,1.98" fill="#fff" stroke="#2f5386" stroke-width="1.8" stroke-linecap="round" stroke-linejoin="round"/>
<path d="M297.04,364.66 A1.84,1.84 0 0 1 296.98,367.44 A2.06,2.06 0 0 1 294.36,369.14 A3.39,3.39 0 0 1 289.31,370.01 A5.34,5.34 0 0 1 281.21,369.99 A3.32,3.32 0 0 1 276.27,369.09 A2.01,2.01 0 0 1 273.76,367.34 A1.84,1.84 0 0 1 273.82,364.56 A2.06,2.06 0 0 1 276.44,362.86 A3.39,3.39 0 0 1 281.49,361.99 A5.34,5.34 0 0 1 289.59,362.01 A3.32,3.32 0 0 1 294.53,362.91 A2.01,2.01 0 0 1 297.04,364.66Z M293.20,366.00 q1.82,0.26 2.47,1.98" fill="#fff" stroke="#2f5386" stroke-width="1.8" stroke-linecap="round" stroke-linejoin="round"/>
<path d="M287.94,392.06 A1.84,1.84 0 0 1 287.88,394.84 A2.06,2.06 0 0 1 285.26,396.54 A3.39,3.39 0 0 1 280.21,397.41 A5.34,5.34 0 0 1 272.11,397.39 A3.32,3.32 0 0 1 267.17,396.49 A2.01,2.01 0 0 1 264.66,394.74 A1.84,1.84 0 0 1 264.72,391.96 A2.06,2.06 0 0 1 267.34,390.26 A3.39,3.39 0 0 1 272.39,389.39 A5.34,5.34 0 0 1 280.49,389.41 A3.32,3.32 0 0 1 285.43,390.31 A2.01,2.01 0 0 1 287.94,392.06Z M284.10,393.40 q1.82,0.26 2.47,1.98" fill="#fff" stroke="#2f5386" stroke-width="1.8" stroke-linecap="round" stroke-linejoin="round"/>
<path d="M253.74,402.26 A1.84,1.84 0 0 1 253.68,405.04 A2.06,2.06 0 0 1 251.06,406.74 A3.39,3.39 0 0 1 246.01,407.61 A5.34,5.34 0 0 1 237.91,407.59 A3.32,3.32 0 0 1 232.97,406.69 A2.01,2.01 0 0 1 230.46,404.94 A1.84,1.84 0 0 1 230.52,402.16 A2.06,2.06 0 0 1 233.14,400.46 A3.39,3.39 0 0 1 238.19,399.59 A5.34,5.34 0 0 1 246.29,399.61 A3.32,3.32 0 0 1 251.23,400.51 A2.01,2.01 0 0 1 253.74,402.26Z M249.90,403.60 q1.82,0.26 2.47,1.98" fill="#fff" stroke="#2f5386" stroke-width="1.8" stroke-linecap="round" stroke-linejoin="round"/>
<path d="M264.14,430.76 A1.84,1.84 0 0 1 264.08,433.54 A2.06,2.06 0 0 1 261.46,435.24 A3.39,3.39 0 0 1 256.41,436.11 A5.34,5.34 0 0 1 248.31,436.09 A3.32,3.32 0 0 1 243.37,435.19 A2.01,2.01 0 0 1 240.86,433.44 A1.84,1.84 0 0 1 240.92,430.66 A2.06,2.06 0 0 1 243.54,428.96 A3.39,3.39 0 0 1 248.59,428.09 A5.34,5.34 0 0 1 256.69,428.11 A3.32,3.32 0 0 1 261.63,429.01 A2.01,2.01 0 0 1 264.14,430.76Z M260.30,432.10 q1.82,0.26 2.47,1.98" fill="#fff" stroke="#2f5386" stroke-width="1.8" stroke-linecap="round" stroke-linejoin="round"/>
<path d="M301.64,424.16 A1.84,1.84 0 0 1 301.58,426.94 A2.06,2.06 0 0 1 298.96,428.64 A3.39,3.39 0 0 1 293.91,429.51 A5.34,5.34 0 0 1 285.81,429.49 A3.32,3.32 0 0 1 280.87,428.59 A2.01,2.01 0 0 1 278.36,426.84 A1.84,1.84 0 0 1 278.42,424.06 A2.06,2.06 0 0 1 281.04,422.36 A3.39,3.39 0 0 1 286.09,421.49 A5.34,5.34 0 0 1 294.19,421.51 A3.32,3.32 0 0 1 299.13,422.41 A2.01,2.01 0 0 1 301.64,424.16Z M297.80,425.50 q1.82,0.26 2.47,1.98" fill="#fff" stroke="#2f5386" stroke-width="1.8" stroke-linecap="round" stroke-linejoin="round"/>
<path d="M321,441.2 L321,352.2 L409.5,352.2 L410,441.5 L324.5,441.2 L324.3,438.5" fill="none" stroke="#4a7ebb" stroke-width="1.0" stroke-linecap="round" stroke-linejoin="round"/>
<path d="M326,353.2 L408,353.2" fill="none" stroke="#4a7ebb" stroke-width="1.0" stroke-linecap="round" stroke-linejoin="round"/>
<rect x="331.00" y="359.10" width="33.70" height="21.50" fill="#fff" stroke="#2f5386" stroke-width="1.8"/>
<text x="347.85" y="372.22" font-size="6.3" text-anchor="middle" stroke="#1a1a1a" stroke-width="0.17" fill="#1a1a1a">33</text>
<rect x="366.40" y="359.10" width="34.30" height="21.50" fill="#fff" stroke="#2f5386" stroke-width="1.8"/>
<text x="383.55" y="372.22" font-size="6.3" text-anchor="middle" stroke="#1a1a1a" stroke-width="0.17" fill="#1a1a1a">32</text>
<rect x="331.00" y="383.30" width="33.70" height="22.30" fill="#fff" stroke="#2f5386" stroke-width="1.8"/>
<text x="347.85" y="396.82" font-size="6.3" text-anchor="middle" stroke="#1a1a1a" stroke-width="0.17" fill="#1a1a1a">28</text>
<rect x="366.40" y="383.30" width="34.30" height="22.30" fill="#fff" stroke="#2f5386" stroke-width="1.8"/>
<text x="383.55" y="396.82" font-size="6.3" text-anchor="middle" stroke="#1a1a1a" stroke-width="0.17" fill="#1a1a1a">29</text>
<path d="M359.94,422.66 A1.84,1.84 0 0 1 359.88,425.44 A2.06,2.06 0 0 1 357.26,427.14 A3.39,3.39 0 0 1 352.21,428.01 A5.34,5.34 0 0 1 344.11,427.99 A3.32,3.32 0 0 1 339.17,427.09 A2.01,2.01 0 0 1 336.66,425.34 A1.84,1.84 0 0 1 336.72,422.56 A2.06,2.06 0 0 1 339.34,420.86 A3.39,3.39 0 0 1 344.39,419.99 A5.34,5.34 0 0 1 352.49,420.01 A3.32,3.32 0 0 1 357.43,420.91 A2.01,2.01 0 0 1 359.94,422.66Z M356.10,424.00 q1.82,0.26 2.47,1.98" fill="#fff" stroke="#2f5386" stroke-width="1.8" stroke-linecap="round" stroke-linejoin="round"/>
<path d="M399.64,428.96 A1.84,1.84 0 0 1 399.58,431.74 A2.06,2.06 0 0 1 396.96,433.44 A3.39,3.39 0 0 1 391.91,434.31 A5.34,5.34 0 0 1 383.81,434.29 A3.32,3.32 0 0 1 378.87,433.39 A2.01,2.01 0 0 1 376.36,431.64 A1.84,1.84 0 0 1 376.42,428.86 A2.06,2.06 0 0 1 379.04,427.16 A3.39,3.39 0 0 1 384.09,426.29 A5.34,5.34 0 0 1 392.19,426.31 A3.32,3.32 0 0 1 397.13,427.21 A2.01,2.01 0 0 1 399.64,428.96Z M395.80,430.30 q1.82,0.26 2.47,1.98" fill="#fff" stroke="#2f5386" stroke-width="1.8" stroke-linecap="round" stroke-linejoin="round"/>
<path d="M419.7,441.8 L419.7,352.8 M422,441.2 L422,352.8 L502,352.8 M506.3,354.5 L507,441 L421,442.7" fill="none" stroke="#4a7ebb" stroke-width="1.0" stroke-linecap="round" stroke-linejoin="round"/>
<rect x="428.50" y="360.10" width="33.80" height="22.70" fill="#fff" stroke="#2f5386" stroke-width="1.8"/>
<text x="445.40" y="373.82" font-size="6.3" text-anchor="middle" stroke="#1a1a1a" stroke-width="0.17" fill="#1a1a1a">30</text>
<rect x="465.40" y="360.10" width="34.10" height="22.70" fill="#fff" stroke="#2f5386" stroke-width="1.8"/>
<text x="482.45" y="373.82" font-size="6.3" text-anchor="middle" stroke="#1a1a1a" stroke-width="0.17" fill="#1a1a1a">31</text>
<path d="M393.3,361.6 C397,359.5 400,359.2 404,359.6 C411,360.5 417,364.5 424,365 C428.5,365.2 431.5,363.8 434.4,362.3 L434.4,377.8 C431.5,379.5 429,380.7 425.5,380.6 C419,380.4 413,376 406.5,375.7 C401.5,375.5 397.5,376.5 393.3,377.8 Z" fill="#fff" stroke="#2f5386" stroke-width="1.7" stroke-linecap="round" stroke-linejoin="round"/>
<text x="413.60" y="372.63" font-size="6.2" text-anchor="middle" textLength="22.30" lengthAdjust="spacingAndGlyphs" stroke="#1a1a1a" stroke-width="0.17" fill="#1a1a1a">PORCHE</text>
<path d="M451.04,406.26 A1.84,1.84 0 0 1 450.98,409.04 A2.06,2.06 0 0 1 448.36,410.74 A3.39,3.39 0 0 1 443.31,411.61 A5.34,5.34 0 0 1 435.21,411.59 A3.32,3.32 0 0 1 430.27,410.69 A2.01,2.01 0 0 1 427.76,408.94 A1.84,1.84 0 0 1 427.82,406.16 A2.06,2.06 0 0 1 430.44,404.46 A3.39,3.39 0 0 1 435.49,403.59 A5.34,5.34 0 0 1 443.59,403.61 A3.32,3.32 0 0 1 448.53,404.51 A2.01,2.01 0 0 1 451.04,406.26Z M447.20,407.60 q1.82,0.26 2.47,1.98" fill="#fff" stroke="#2f5386" stroke-width="1.8" stroke-linecap="round" stroke-linejoin="round"/>
<path d="M493.84,400.66 A1.84,1.84 0 0 1 493.78,403.44 A2.06,2.06 0 0 1 491.16,405.14 A3.39,3.39 0 0 1 486.11,406.01 A5.34,5.34 0 0 1 478.01,405.99 A3.32,3.32 0 0 1 473.07,405.09 A2.01,2.01 0 0 1 470.56,403.34 A1.84,1.84 0 0 1 470.62,400.56 A2.06,2.06 0 0 1 473.24,398.86 A3.39,3.39 0 0 1 478.29,397.99 A5.34,5.34 0 0 1 486.39,398.01 A3.32,3.32 0 0 1 491.33,398.91 A2.01,2.01 0 0 1 493.84,400.66Z M490.00,402.00 q1.82,0.26 2.47,1.98" fill="#fff" stroke="#2f5386" stroke-width="1.8" stroke-linecap="round" stroke-linejoin="round"/>
<path d="M477.04,427.66 A1.84,1.84 0 0 1 476.98,430.44 A2.06,2.06 0 0 1 474.36,432.14 A3.39,3.39 0 0 1 469.31,433.01 A5.34,5.34 0 0 1 461.21,432.99 A3.32,3.32 0 0 1 456.27,432.09 A2.01,2.01 0 0 1 453.76,430.34 A1.84,1.84 0 0 1 453.82,427.56 A2.06,2.06 0 0 1 456.44,425.86 A3.39,3.39 0 0 1 461.49,424.99 A5.34,5.34 0 0 1 469.59,425.01 A3.32,3.32 0 0 1 474.53,425.91 A2.01,2.01 0 0 1 477.04,427.66Z M473.20,429.00 q1.82,0.26 2.47,1.98" fill="#fff" stroke="#2f5386" stroke-width="1.8" stroke-linecap="round" stroke-linejoin="round"/>
<path d="M513.8,442.5 L513.8,352.3 M516.8,442.7 L516.8,352 L610.9,351.6" fill="none" stroke="#4a7ebb" stroke-width="1.0" stroke-linecap="round" stroke-linejoin="round"/>
<path d="M610.90,351.60 C611.63,353.45 613.83,358.27 615.30,362.70 C616.77,367.13 619.40,373.40 619.70,378.20 C620.00,383.00 617.83,387.62 617.10,391.50 C616.37,395.38 615.23,396.70 615.30,401.50 C615.37,406.30 616.58,413.47 617.50,420.30 C618.42,427.13 620.25,438.80 620.80,442.50 L516.8,442.7" fill="none" stroke="#4a7ebb" stroke-width="1.0" stroke-linecap="round" stroke-linejoin="round"/>
<rect x="518.60" y="363.00" width="28.60" height="17.60" fill="#fff" stroke="#2f5386" stroke-width="1.8"/>
<text x="532.90" y="374.17" font-size="6.3" text-anchor="middle" stroke="#1a1a1a" stroke-width="0.17" fill="#1a1a1a">11</text>
<rect x="549.90" y="363.00" width="28.50" height="17.60" fill="#fff" stroke="#2f5386" stroke-width="1.8"/>
<text x="564.15" y="374.17" font-size="6.3" text-anchor="middle" stroke="#1a1a1a" stroke-width="0.17" fill="#1a1a1a">12</text>
<rect x="581.00" y="374.80" width="28.30" height="18.00" fill="#fff" stroke="#2f5386" stroke-width="1.8"/>
<text x="595.15" y="386.17" font-size="6.3" text-anchor="middle" stroke="#1a1a1a" stroke-width="0.17" fill="#1a1a1a">13</text>
<path d="M552.64,401.26 A1.84,1.84 0 0 1 552.58,404.04 A2.06,2.06 0 0 1 549.96,405.74 A3.39,3.39 0 0 1 544.91,406.61 A5.34,5.34 0 0 1 536.81,406.59 A3.32,3.32 0 0 1 531.87,405.69 A2.01,2.01 0 0 1 529.36,403.94 A1.84,1.84 0 0 1 529.42,401.16 A2.06,2.06 0 0 1 532.04,399.46 A3.39,3.39 0 0 1 537.09,398.59 A5.34,5.34 0 0 1 545.19,398.61 A3.32,3.32 0 0 1 550.13,399.51 A2.01,2.01 0 0 1 552.64,401.26Z M548.80,402.60 q1.82,0.26 2.47,1.98" fill="#fff" stroke="#2f5386" stroke-width="1.8" stroke-linecap="round" stroke-linejoin="round"/>
<path d="M599.44,407.96 A1.84,1.84 0 0 1 599.38,410.74 A2.06,2.06 0 0 1 596.76,412.44 A3.39,3.39 0 0 1 591.71,413.31 A5.34,5.34 0 0 1 583.61,413.29 A3.32,3.32 0 0 1 578.67,412.39 A2.01,2.01 0 0 1 576.16,410.64 A1.84,1.84 0 0 1 576.22,407.86 A2.06,2.06 0 0 1 578.84,406.16 A3.39,3.39 0 0 1 583.89,405.29 A5.34,5.34 0 0 1 591.99,405.31 A3.32,3.32 0 0 1 596.93,406.21 A2.01,2.01 0 0 1 599.44,407.96Z M595.60,409.30 q1.82,0.26 2.47,1.98" fill="#fff" stroke="#2f5386" stroke-width="1.8" stroke-linecap="round" stroke-linejoin="round"/>
<path d="M563.04,429.66 A1.84,1.84 0 0 1 562.98,432.44 A2.06,2.06 0 0 1 560.36,434.14 A3.39,3.39 0 0 1 555.31,435.01 A5.34,5.34 0 0 1 547.21,434.99 A3.32,3.32 0 0 1 542.27,434.09 A2.01,2.01 0 0 1 539.76,432.34 A1.84,1.84 0 0 1 539.82,429.56 A2.06,2.06 0 0 1 542.44,427.86 A3.39,3.39 0 0 1 547.49,426.99 A5.34,5.34 0 0 1 555.59,427.01 A3.32,3.32 0 0 1 560.53,427.91 A2.01,2.01 0 0 1 563.04,429.66Z M559.20,431.00 q1.82,0.26 2.47,1.98" fill="#fff" stroke="#2f5386" stroke-width="1.8" stroke-linecap="round" stroke-linejoin="round"/>
<path d="M661,351.6 L625.3,351.6  C625.55,353.45 626.35,358.27 626.80,362.70 C627.25,367.13 628.25,373.40 628.00,378.20 C627.75,383.00 626.30,387.62 625.30,391.50 C624.30,395.38 622.37,396.70 622.00,401.50 C621.63,406.30 622.43,413.47 623.10,420.30 C623.77,427.13 625.52,438.80 626.00,442.50" fill="none" stroke="#4a7ebb" stroke-width="1.0" stroke-linecap="round" stroke-linejoin="round"/>
<rect x="633.30" y="361.10" width="28.80" height="17.70" fill="#fff" stroke="#2f5386" stroke-width="1.8"/>
<text x="647.70" y="372.32" font-size="6.3" text-anchor="middle" stroke="#1a1a1a" stroke-width="0.17" fill="#1a1a1a">16</text>
<rect x="664.90" y="361.10" width="28.50" height="18.10" fill="#fff" stroke="#2f5386" stroke-width="1.8"/>
<text x="679.15" y="372.52" font-size="6.3" text-anchor="middle" stroke="#1a1a1a" stroke-width="0.17" fill="#1a1a1a">14</text>
<rect x="632.30" y="384.60" width="30.60" height="16.60" fill="#fff" stroke="#2f5386" stroke-width="1.8"/>
<text x="647.60" y="395.27" font-size="6.3" text-anchor="middle" stroke="#1a1a1a" stroke-width="0.17" fill="#1a1a1a">17</text>
<rect x="665.60" y="384.20" width="27.80" height="17.40" fill="#fff" stroke="#2f5386" stroke-width="1.8"/>
<text x="679.50" y="395.27" font-size="6.3" text-anchor="middle" stroke="#1a1a1a" stroke-width="0.17" fill="#1a1a1a">20</text>
<rect x="665.60" y="406.60" width="28.10" height="17.00" fill="#fff" stroke="#2f5386" stroke-width="1.8"/>
<text x="679.65" y="417.47" font-size="6.3" text-anchor="middle" stroke="#1a1a1a" stroke-width="0.17" fill="#1a1a1a">15</text>
<text x="681.50" y="339.80" font-size="6.4" text-anchor="middle" textLength="28.50" lengthAdjust="spacingAndGlyphs" stroke="#1a1a1a" stroke-width="0.17" fill="#1a1a1a">16 ET 17 A</text>
<text x="681.50" y="347.90" font-size="6.4" text-anchor="middle" textLength="22.00" lengthAdjust="spacingAndGlyphs" stroke="#1a1a1a" stroke-width="0.17" fill="#1a1a1a">L'ETAGE</text>
<line x1="665.30" y1="342.80" x2="646.30" y2="379.00" stroke="#2f5386" stroke-width="1.7" stroke-linecap="round"/>
<path d="M698.7,353.6 L698.7,441.6" fill="none" stroke="#4a7ebb" stroke-width="1.0" stroke-linecap="round" stroke-linejoin="round"/>
<path d="M706.7,443 L706.7,351.8 L847.2,351.8 L847.3,498.5" fill="none" stroke="#4a7ebb" stroke-width="1.0" stroke-linecap="round" stroke-linejoin="round"/>
<path d="M708.5,353.2 L845,353.2" fill="none" stroke="#4a7ebb" stroke-width="1.0" stroke-linecap="round" stroke-linejoin="round"/>
<rect x="717.80" y="381.80" width="30.90" height="59.20" fill="#fff" stroke="#2f5386" stroke-width="1.8"/>
<text x="733.25" y="413.73" font-size="6.2" text-anchor="middle" textLength="21.80" lengthAdjust="spacingAndGlyphs" transform="rotate(90 733.25 411.40)" stroke="#1a1a1a" stroke-width="0.17" fill="#1a1a1a">PISCINE</text>
<rect x="763.50" y="358.20" width="77.90" height="28.00" fill="#fff" stroke="#2f5386" stroke-width="1.8"/>
<text x="802.50" y="370.78" font-size="6.6" text-anchor="middle" textLength="31.60" lengthAdjust="spacingAndGlyphs" stroke="#1a1a1a" stroke-width="0.17" fill="#1a1a1a">RECEPTION</text>
<rect x="762.60" y="395.60" width="77.40" height="23.00" fill="#fff" stroke="#2f5386" stroke-width="1.8"/>
<text x="801.20" y="405.08" font-size="6.6" text-anchor="middle" textLength="49.10" lengthAdjust="spacingAndGlyphs" stroke="#1a1a1a" stroke-width="0.17" fill="#1a1a1a">BAR RESTAURANT</text>
<rect x="762.60" y="419.50" width="39.80" height="22.40" fill="#fff" stroke="#2f5386" stroke-width="1.8"/>
<path d="M839.63,434.73 A2.02,2.02 0 0 1 839.57,437.78 A2.13,2.13 0 0 1 836.93,439.65 A3.42,3.42 0 0 1 831.83,440.59 A5.38,5.38 0 0 1 823.68,440.57 A3.35,3.35 0 0 1 818.70,439.58 A2.09,2.09 0 0 1 816.17,437.67 A2.02,2.02 0 0 1 816.23,434.62 A2.13,2.13 0 0 1 818.87,432.75 A3.42,3.42 0 0 1 823.97,431.81 A5.38,5.38 0 0 1 832.12,431.83 A3.35,3.35 0 0 1 837.10,432.82 A2.09,2.09 0 0 1 839.63,434.73Z M835.79,436.20 q1.84,0.28 2.50,2.10" fill="#fff" stroke="#2f5386" stroke-width="1.8" stroke-linecap="round" stroke-linejoin="round"/>
<path d="M834.6,444.8 L834.6,462.3 L815.3,462.3 Z" fill="none" stroke="#2f5386" stroke-width="1.5" stroke-linecap="round" stroke-linejoin="round"/>
<line x1="824.70" y1="457.80" x2="811.00" y2="479.00" stroke="#2f5386" stroke-width="1.7" stroke-linecap="round"/>
<text x="829.20" y="481.33" font-size="6.2" text-anchor="middle" textLength="24.50" lengthAdjust="spacingAndGlyphs" stroke="#1a1a1a" stroke-width="0.17" fill="#1a1a1a">KIOSQUE</text>
<path d="M749.8,462.6 L758.5,462.6 A8.8,8.8 0 0 1 767.3,471.4 L767.3,480.2 L749.8,480.2 Z" fill="none" stroke="#2f5386" stroke-width="1.6" stroke-linecap="round" stroke-linejoin="round"/>
<line x1="755.50" y1="471.30" x2="773.70" y2="488.50" stroke="#2f5386" stroke-width="1.7" stroke-linecap="round"/>
<text x="788.20" y="490.33" font-size="6.2" text-anchor="middle" textLength="25.70" lengthAdjust="spacingAndGlyphs" stroke="#1a1a1a" stroke-width="0.17" fill="#1a1a1a">CASCADE</text>
<rect x="762.80" y="507.90" width="34.30" height="30.30" fill="#fff" stroke="#2f5386" stroke-width="1.8"/>
<text x="779.95" y="525.45" font-size="6.4" text-anchor="middle" textLength="20.50" lengthAdjust="spacingAndGlyphs" stroke="#1a1a1a" stroke-width="0.17" fill="#1a1a1a">VOLLEY</text>
<rect x="798.90" y="507.90" width="75.50" height="30.30" fill="#fff" stroke="#2f5386" stroke-width="1.8"/>
<text x="836.65" y="525.45" font-size="6.4" text-anchor="middle" textLength="29.00" lengthAdjust="spacingAndGlyphs" stroke="#1a1a1a" stroke-width="0.17" fill="#1a1a1a">MINI GOLF</text>
<path d="M146,454 L726,453.6 C729,455 730,458 730.3,462 C730.8,470 730,477 727,481.7 C724,485.5 720,487.5 717,488 C711,489.8 705,490 698.9,489.9 C686,489.5 674,486.5 662.6,484.5 L605.4,477.2" fill="none" stroke="#4a7ebb" stroke-width="1.0" stroke-linecap="round" stroke-linejoin="round"/>
<path d="M605.4,480.8 L662.6,489 C674,491 686,494 698.9,494.4 C705,494.5 711,494.5 717,493.5 C721,492.5 724,490.5 726,489 C728,489 728.6,490.5 728.8,492.6 C729.5,498 729,503.5 727.9,509 C726,517 722,524.5 717,530.7 C712,537 706,541.5 698.9,545.2 C690,549.5 681,552.5 671.6,554.3 C662,556 653,556.2 644.4,556.1 L18,552.8" fill="none" stroke="#4a7ebb" stroke-width="1.0" stroke-linecap="round" stroke-linejoin="round"/>
<path d="M737.4,455.2 C737.3,462 737,469 736.6,476.3 C736.2,484 735.5,491 735.4,497.5 C735.4,501.5 736.5,503.5 739,503.8 C741,504 742.5,503.8 744.5,503.3 C750,501.8 756,499.3 762.6,498.5 L853.3,497.1" fill="none" stroke="#4a7ebb" stroke-width="1.0" stroke-linecap="round" stroke-linejoin="round"/>
<path d="M770,506.4 C764,506.5 758.5,506.8 753.3,507.3 C747,507.8 740,508 735.2,509.9 C732.5,511.3 731.5,513.5 730.6,516.2 C729.2,520.5 728,525 726.1,528.9 C722,537 715.5,542.5 708,547 C699.5,551.5 690,554.2 680.7,556.1 L656.2,561.2 L18.5,559.9" fill="none" stroke="#4a7ebb" stroke-width="1.0" stroke-linecap="round" stroke-linejoin="round"/>
<text x="368.60" y="450.94" font-size="9" text-anchor="middle" textLength="62.00" lengthAdjust="spacingAndGlyphs" stroke="#1a1a1a" stroke-width="0.25" fill="#1a1a1a">ZONE PIETONNE</text>
<text x="316.20" y="573.64" font-size="9" text-anchor="middle" textLength="63.00" lengthAdjust="spacingAndGlyphs" stroke="#1a1a1a" stroke-width="0.25" fill="#1a1a1a">RIVIERE LE CAVU</text>
<rect x="63.50" y="466.30" width="34.20" height="21.70" fill="#fff" stroke="#2f5386" stroke-width="1.8"/>
<text x="80.60" y="479.52" font-size="6.3" text-anchor="middle" stroke="#1a1a1a" stroke-width="0.17" fill="#1a1a1a">1</text>
<rect x="186.20" y="466.30" width="33.90" height="21.70" fill="#fff" stroke="#2f5386" stroke-width="1.8"/>
<text x="203.15" y="479.52" font-size="6.3" text-anchor="middle" stroke="#1a1a1a" stroke-width="0.17" fill="#1a1a1a">5</text>
<rect x="88.40" y="489.20" width="33.70" height="21.60" fill="#fff" stroke="#2f5386" stroke-width="1.8"/>
<text x="105.25" y="502.37" font-size="6.3" text-anchor="middle" stroke="#1a1a1a" stroke-width="0.17" fill="#1a1a1a">2</text>
<rect x="124.80" y="489.20" width="34.00" height="21.60" fill="#fff" stroke="#2f5386" stroke-width="1.8"/>
<text x="141.80" y="502.37" font-size="6.3" text-anchor="middle" stroke="#1a1a1a" stroke-width="0.17" fill="#1a1a1a">3</text>
<rect x="161.80" y="489.60" width="34.00" height="21.80" fill="#fff" stroke="#2f5386" stroke-width="1.8"/>
<text x="178.80" y="502.87" font-size="6.3" text-anchor="middle" stroke="#1a1a1a" stroke-width="0.17" fill="#1a1a1a">4</text>
<path d="M147.14,471.66 A1.84,1.84 0 0 1 147.08,474.44 A2.06,2.06 0 0 1 144.46,476.14 A3.39,3.39 0 0 1 139.41,477.01 A5.34,5.34 0 0 1 131.31,476.99 A3.32,3.32 0 0 1 126.37,476.09 A2.01,2.01 0 0 1 123.86,474.34 A1.84,1.84 0 0 1 123.92,471.56 A2.06,2.06 0 0 1 126.54,469.86 A3.39,3.39 0 0 1 131.59,468.99 A5.34,5.34 0 0 1 139.69,469.01 A3.32,3.32 0 0 1 144.63,469.91 A2.01,2.01 0 0 1 147.14,471.66Z M143.30,473.00 q1.82,0.26 2.47,1.98" fill="#fff" stroke="#2f5386" stroke-width="1.8" stroke-linecap="round" stroke-linejoin="round"/>
<path d="M223.44,515.46 A1.84,1.84 0 0 1 223.38,518.24 A2.06,2.06 0 0 1 220.76,519.94 A3.39,3.39 0 0 1 215.71,520.81 A5.34,5.34 0 0 1 207.61,520.79 A3.32,3.32 0 0 1 202.67,519.89 A2.01,2.01 0 0 1 200.16,518.14 A1.84,1.84 0 0 1 200.22,515.36 A2.06,2.06 0 0 1 202.84,513.66 A3.39,3.39 0 0 1 207.89,512.79 A5.34,5.34 0 0 1 215.99,512.81 A3.32,3.32 0 0 1 220.93,513.71 A2.01,2.01 0 0 1 223.44,515.46Z M219.60,516.80 q1.82,0.26 2.47,1.98" fill="#fff" stroke="#2f5386" stroke-width="1.8" stroke-linecap="round" stroke-linejoin="round"/>
<rect x="236.60" y="466.40" width="48.60" height="21.60" fill="#fff" stroke="#2f5386" stroke-width="1.8"/>
<text x="260.90" y="479.57" font-size="6.3" text-anchor="middle" stroke="#1a1a1a" stroke-width="0.17" fill="#1a1a1a">6</text>
<rect x="286.90" y="466.40" width="55.70" height="21.60" fill="#fff" stroke="#2f5386" stroke-width="1.8"/>
<text x="314.75" y="479.57" font-size="6.3" text-anchor="middle" stroke="#1a1a1a" stroke-width="0.17" fill="#1a1a1a">10</text>
<rect x="236.60" y="489.90" width="33.40" height="21.30" fill="#fff" stroke="#2f5386" stroke-width="1.8"/>
<text x="253.30" y="502.92" font-size="6.3" text-anchor="middle" stroke="#1a1a1a" stroke-width="0.17" fill="#1a1a1a">7</text>
<rect x="271.90" y="489.90" width="34.30" height="21.30" fill="#fff" stroke="#2f5386" stroke-width="1.8"/>
<text x="289.05" y="502.92" font-size="6.3" text-anchor="middle" stroke="#1a1a1a" stroke-width="0.17" fill="#1a1a1a">8</text>
<rect x="308.00" y="489.90" width="34.10" height="21.30" fill="#fff" stroke="#2f5386" stroke-width="1.8"/>
<text x="325.05" y="502.92" font-size="6.3" text-anchor="middle" stroke="#1a1a1a" stroke-width="0.17" fill="#1a1a1a">9</text>
<rect x="353.00" y="467.10" width="34.10" height="21.40" fill="#fff" stroke="#2f5386" stroke-width="1.8"/>
<text x="370.05" y="480.17" font-size="6.3" text-anchor="middle" stroke="#1a1a1a" stroke-width="0.17" fill="#1a1a1a">24</text>
<rect x="388.90" y="467.10" width="34.30" height="21.40" fill="#fff" stroke="#2f5386" stroke-width="1.8"/>
<text x="406.05" y="480.17" font-size="6.3" text-anchor="middle" stroke="#1a1a1a" stroke-width="0.17" fill="#1a1a1a">23</text>
<rect x="353.00" y="490.90" width="34.10" height="21.90" fill="#fff" stroke="#2f5386" stroke-width="1.8"/>
<text x="370.05" y="504.22" font-size="6.3" text-anchor="middle" stroke="#1a1a1a" stroke-width="0.17" fill="#1a1a1a">27</text>
<rect x="388.90" y="490.90" width="34.30" height="21.90" fill="#fff" stroke="#2f5386" stroke-width="1.8"/>
<text x="406.05" y="504.22" font-size="6.3" text-anchor="middle" stroke="#1a1a1a" stroke-width="0.17" fill="#1a1a1a">26</text>
<rect x="443.40" y="467.00" width="33.70" height="21.70" fill="#fff" stroke="#2f5386" stroke-width="1.8"/>
<text x="460.25" y="480.22" font-size="6.3" text-anchor="middle" stroke="#1a1a1a" stroke-width="0.17" fill="#1a1a1a">21</text>
<rect x="443.40" y="491.90" width="33.70" height="21.90" fill="#fff" stroke="#2f5386" stroke-width="1.8"/>
<text x="460.25" y="505.22" font-size="6.3" text-anchor="middle" stroke="#1a1a1a" stroke-width="0.17" fill="#1a1a1a">25</text>
<path d="M520.14,496.36 A1.84,1.84 0 0 1 520.08,499.14 A2.06,2.06 0 0 1 517.46,500.84 A3.39,3.39 0 0 1 512.41,501.71 A5.34,5.34 0 0 1 504.31,501.69 A3.32,3.32 0 0 1 499.37,500.79 A2.01,2.01 0 0 1 496.86,499.04 A1.84,1.84 0 0 1 496.92,496.26 A2.06,2.06 0 0 1 499.54,494.56 A3.39,3.39 0 0 1 504.59,493.69 A5.34,5.34 0 0 1 512.69,493.71 A3.32,3.32 0 0 1 517.63,494.61 A2.01,2.01 0 0 1 520.14,496.36Z M516.30,497.70 q1.82,0.26 2.47,1.98" fill="#fff" stroke="#2f5386" stroke-width="1.8" stroke-linecap="round" stroke-linejoin="round"/>
<path d="M573.24,496.36 A1.84,1.84 0 0 1 573.18,499.14 A2.06,2.06 0 0 1 570.56,500.84 A3.39,3.39 0 0 1 565.51,501.71 A5.34,5.34 0 0 1 557.41,501.69 A3.32,3.32 0 0 1 552.47,500.79 A2.01,2.01 0 0 1 549.96,499.04 A1.84,1.84 0 0 1 550.02,496.26 A2.06,2.06 0 0 1 552.64,494.56 A3.39,3.39 0 0 1 557.69,493.69 A5.34,5.34 0 0 1 565.79,493.71 A3.32,3.32 0 0 1 570.73,494.61 A2.01,2.01 0 0 1 573.24,496.36Z M569.40,497.70 q1.82,0.26 2.47,1.98" fill="#fff" stroke="#2f5386" stroke-width="1.8" stroke-linecap="round" stroke-linejoin="round"/>
<rect x="496.80" y="467.40" width="33.60" height="21.60" fill="#fff" stroke="#2f5386" stroke-width="1.8"/>
<text x="513.60" y="480.57" font-size="6.3" text-anchor="middle" stroke="#1a1a1a" stroke-width="0.17" fill="#1a1a1a">22</text>
<rect x="532.90" y="467.40" width="34.50" height="21.60" fill="#fff" stroke="#2f5386" stroke-width="1.8"/>
<text x="550.15" y="480.57" font-size="6.3" text-anchor="middle" stroke="#1a1a1a" stroke-width="0.17" fill="#1a1a1a">19</text>
<rect x="569.00" y="467.40" width="34.40" height="21.60" fill="#fff" stroke="#2f5386" stroke-width="1.8"/>
<text x="586.20" y="480.57" font-size="6.3" text-anchor="middle" stroke="#1a1a1a" stroke-width="0.17" fill="#1a1a1a">18</text>
<path d="M307.34,520.66 A1.84,1.84 0 0 1 307.28,523.44 A2.06,2.06 0 0 1 304.66,525.14 A3.39,3.39 0 0 1 299.61,526.01 A5.34,5.34 0 0 1 291.51,525.99 A3.32,3.32 0 0 1 286.57,525.09 A2.01,2.01 0 0 1 284.06,523.34 A1.84,1.84 0 0 1 284.12,520.56 A2.06,2.06 0 0 1 286.74,518.86 A3.39,3.39 0 0 1 291.79,517.99 A5.34,5.34 0 0 1 299.89,518.01 A3.32,3.32 0 0 1 304.83,518.91 A2.01,2.01 0 0 1 307.34,520.66Z M303.50,522.00 q1.82,0.26 2.47,1.98" fill="#fff" stroke="#2f5386" stroke-width="1.8" stroke-linecap="round" stroke-linejoin="round"/>
<path d="M413.84,520.66 A1.84,1.84 0 0 1 413.78,523.44 A2.06,2.06 0 0 1 411.16,525.14 A3.39,3.39 0 0 1 406.11,526.01 A5.34,5.34 0 0 1 398.01,525.99 A3.32,3.32 0 0 1 393.07,525.09 A2.01,2.01 0 0 1 390.56,523.34 A1.84,1.84 0 0 1 390.62,520.56 A2.06,2.06 0 0 1 393.24,518.86 A3.39,3.39 0 0 1 398.29,517.99 A5.34,5.34 0 0 1 406.39,518.01 A3.32,3.32 0 0 1 411.33,518.91 A2.01,2.01 0 0 1 413.84,520.66Z M410.00,522.00 q1.82,0.26 2.47,1.98" fill="#fff" stroke="#2f5386" stroke-width="1.8" stroke-linecap="round" stroke-linejoin="round"/>
<path d="M498.5,516.8 C500,515.3 503,516.2 504,515.6 C506,514.4 509,514.6 510.5,515.8 C513,514.8 516,515.3 517.2,516.8 C520,516.8 521.5,519 520.5,520.5 C522,522 521,524.5 518.5,525 C518.5,527 515,528.3 512.5,527.2 C510.5,528.8 507,528.8 505.3,527.4 C504,527.8 502.5,527.5 501.8,526.8" fill="none" stroke="#2f5386" stroke-width="1.8" stroke-linecap="round" stroke-linejoin="round"/>
<path d="M680.06,471.69 A1.92,1.92 0 0 1 680.00,474.61 A2.10,2.10 0 0 1 677.35,476.39 A3.42,3.42 0 0 1 672.25,477.29 A5.40,5.40 0 0 1 664.07,477.27 A3.35,3.35 0 0 1 659.07,476.32 A2.06,2.06 0 0 1 656.54,474.51 A1.92,1.92 0 0 1 656.60,471.59 A2.10,2.10 0 0 1 659.25,469.81 A3.42,3.42 0 0 1 664.35,468.91 A5.40,5.40 0 0 1 672.53,468.93 A3.35,3.35 0 0 1 677.53,469.88 A2.06,2.06 0 0 1 680.06,471.69Z M676.19,473.10 q1.84,0.27 2.50,2.04" fill="#fff" stroke="#2f5386" stroke-width="1.8" stroke-linecap="round" stroke-linejoin="round"/>
<text x="365.80" y="531.40" font-size="6.4" text-anchor="middle" textLength="28.50" lengthAdjust="spacingAndGlyphs" stroke="#1a1a1a" stroke-width="0.17" fill="#1a1a1a">26 ET 27 A</text>
<text x="365.80" y="539.20" font-size="6.4" text-anchor="middle" textLength="22.00" lengthAdjust="spacingAndGlyphs" stroke="#1a1a1a" stroke-width="0.17" fill="#1a1a1a">L'ETAGE</text>
<line x1="386.30" y1="506.00" x2="359.90" y2="521.40" stroke="#2f5386" stroke-width="1.7" stroke-linecap="round"/>
<text x="483.40" y="529.70" font-size="6.4" text-anchor="middle" textLength="12.50" lengthAdjust="spacingAndGlyphs" stroke="#1a1a1a" stroke-width="0.17" fill="#1a1a1a">25 A</text>
<text x="483.40" y="537.40" font-size="6.4" text-anchor="middle" textLength="22.00" lengthAdjust="spacingAndGlyphs" stroke="#1a1a1a" stroke-width="0.17" fill="#1a1a1a">L'ETAGE</text>
<line x1="450.20" y1="503.60" x2="470.00" y2="532.00" stroke="#2f5386" stroke-width="1.7" stroke-linecap="round"/>
<ellipse cx="649.6" cy="534.1" rx="28" ry="13.7" transform="rotate(-6 649.6 534.1)" fill="none" stroke="#2f5386" stroke-width="1.4"/>
<text x="648.10" y="529.07" font-size="6.3" text-anchor="middle" textLength="23.50" lengthAdjust="spacingAndGlyphs" transform="rotate(-9 648.10 526.70)" stroke="#1a1a1a" stroke-width="0.17" fill="#1a1a1a">AIRE&#160;&#160;DE</text>
<text x="649.90" y="536.57" font-size="6.3" text-anchor="middle" textLength="13.50" lengthAdjust="spacingAndGlyphs" transform="rotate(-9 649.90 534.20)" stroke="#1a1a1a" stroke-width="0.17" fill="#1a1a1a">JEUX</text>
<text x="651.10" y="544.57" font-size="6.3" text-anchor="middle" textLength="25.50" lengthAdjust="spacingAndGlyphs" transform="rotate(-9 651.10 542.20)" stroke="#1a1a1a" stroke-width="0.17" fill="#1a1a1a">ENFANTS</text>
</svg>
</body></html>
